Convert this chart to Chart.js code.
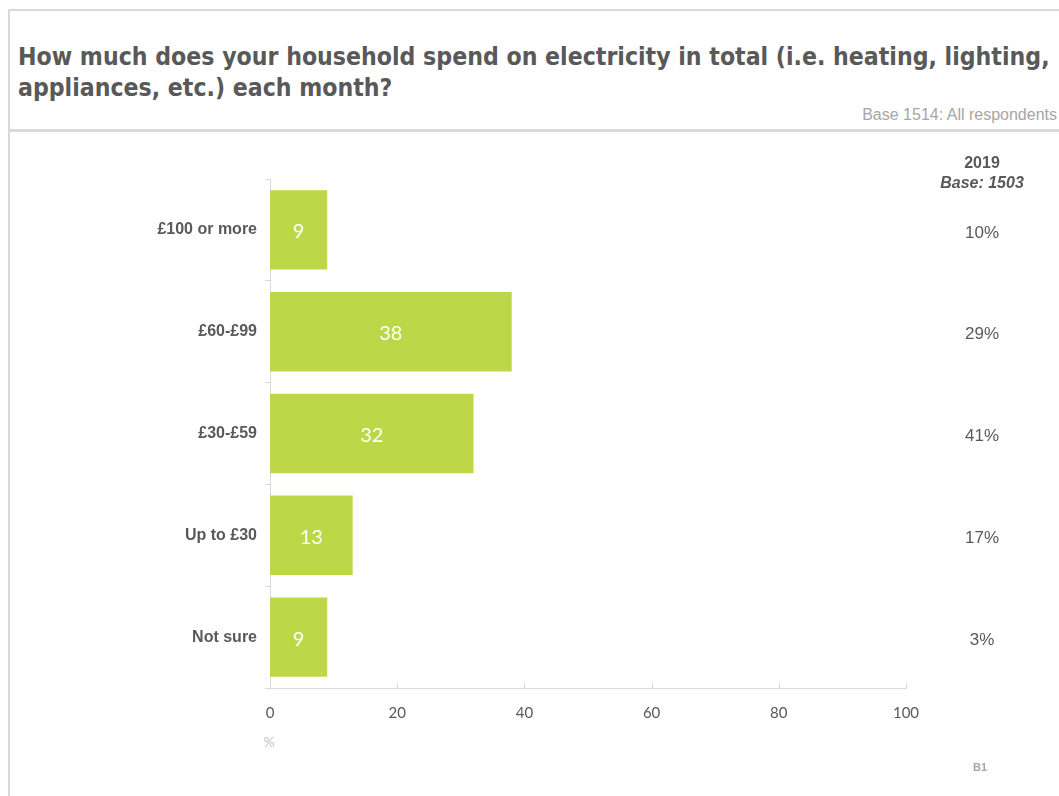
<!DOCTYPE html>
<html>
<head>
<meta charset="utf-8">
<script src="https://cdn.jsdelivr.net/npm/chart.js@4"></script>
<style>
  html, body { margin: 0; padding: 0; background: #fff; }
  body { width: 1059px; height: 796px; position: relative; overflow: hidden; }
  #frame { position: absolute; left: 8px; top: 9px; width: 1100px; height: 900px;
           border-left: 2px solid #d9d9d9; border-top: 2px solid #d9d9d9; }
  #title { position: absolute; left: 18px; top: 41px; margin: 0; white-space: nowrap;
           font-family: "DejaVu Sans Condensed", "DejaVu Sans", sans-serif; font-weight: bold;
           font-size: 24.6px; line-height: 31px; color: #595959; }
  #base { position: absolute; right: 2px; top: 106px; font-family: "Liberation Sans", Arial, sans-serif;
          font-size: 16px; color: #a6a6a6; }
  #divider { position: absolute; left: 9px; top: 129px; width: 1060px; height: 3px; background: #d9d9d9; }
  #wrap { position: absolute; left: 0; top: 0; width: 1059px; height: 796px; }
</style>
</head>
<body>
<div id="frame"></div>
<h1 id="title">How much does your household spend on electricity in total (i.e. heating, lighting,<br>appliances, etc.) each month?</h1>
<div id="base">Base 1514: All respondents</div>
<div id="divider"></div>
<div id="wrap"><canvas id="chart"></canvas></div>
<script>
const categories = ["£100 or more", "£60-£99", "£30-£59", "Up to £30", "Not sure"];
const values2020 = [9, 38, 32, 13, 9];
const labels2019 = ["10%", "29%", "41%", "17%", "3%"];
const xTicks = [0, 20, 40, 60, 80, 100];

const grey = "#595959";
const lineGrey = "#d9d9d9";

const extras = {
    id: "extras",
    afterDatasetsDraw(chart) {
        const ctx = chart.ctx;
        const x = chart.scales.x;
        const y = chart.scales.y;
        ctx.save();

        // small upward ticks on the x axis
        ctx.strokeStyle = lineGrey;
        ctx.lineWidth = 1;
        xTicks.forEach(function (v) {
            const px = Math.round(x.getPixelForValue(v)) + 0.5;
            ctx.beginPath();
            ctx.moveTo(px, y.bottom);
            ctx.lineTo(px, y.bottom - 5);
            ctx.stroke();
        });

        // values inside bars
        ctx.fillStyle = "#ffffff";
        ctx.font = "20px Lato, 'Open Sans', sans-serif";
        ctx.textAlign = "center";
        ctx.textBaseline = "middle";
        chart.getDatasetMeta(0).data.forEach(function (bar, i) {
            ctx.fillText(String(values2020[i]), (bar.base + bar.x) / 2, bar.y + 2);
        });

        // 2019 column
        const colX = 982;
        ctx.fillStyle = grey;
        ctx.font = "bold 16px 'Liberation Sans', Arial, sans-serif";
        ctx.fillText("2019", colX, y.top - 15);
        ctx.font = "italic bold 16px 'Liberation Sans', Arial, sans-serif";
        ctx.fillText("Base: 1503", colX, y.top + 5);
        ctx.font = "17px 'Liberation Sans', Arial, sans-serif";
        labels2019.forEach(function (t, i) {
            ctx.fillText(t, colX, y.getPixelForValue(i) + 3);
        });

        // % unit under the axis
        ctx.fillStyle = "#bfbfbf";
        ctx.font = "14px Lato, sans-serif";
        ctx.fillText("%", x.left - 1, y.bottom + 54);

        // footnote
        ctx.fillStyle = "#a6a6a6";
        ctx.font = "bold 11px 'Liberation Sans', Arial, sans-serif";
        ctx.fillText("B1", colX - 2, 768);
        ctx.restore();
    },
};

const ctx = document.getElementById("chart").getContext("2d");
new Chart(ctx, {
    type: "bar",
    data: {
        labels: categories,
        datasets: [
            {
                label: "2020",
                data: values2020,
                backgroundColor: "#bdd748",
                borderWidth: 0,
                barPercentage: 0.78,
                categoryPercentage: 1,
            },
        ],
    },
    options: {
        indexAxis: "y",
        responsive: true,
        maintainAspectRatio: false,
        animation: false,
        layout: {
            padding: { top: 179, right: 153, bottom: 68, left: 0 },
        },
        plugins: {
            legend: { display: false },
            tooltip: { enabled: false },
        },
        scales: {
            x: {
                min: 0,
                max: 100,
                afterBuildTicks: function (scale) {
                    scale.ticks = xTicks.map(function (v) { return { value: v }; });
                },
                afterFit: function (scale) { scale.height = 40; },
                grid: { display: false, drawTicks: false },
                border: { display: true, color: lineGrey, width: 1 },
                ticks: {
                    padding: 16,
                    color: grey,
                    font: { family: "Lato", size: 15 },
                    maxRotation: 0,
                },
            },
            y: {
                afterFit: function (scale) { scale.width = 270; },
                grid: {
                    display: true,
                    drawOnChartArea: false,
                    drawTicks: true,
                    tickLength: 5,
                    color: lineGrey,
                    offset: true,
                },
                border: { display: true, color: lineGrey, width: 1 },
                ticks: {
                    padding: 8,
                    color: grey,
                    font: { family: "Liberation Sans", size: 16, weight: "bold" },
                },
            },
        },
    },
    plugins: [extras],
});
</script>
</body>
</html>
